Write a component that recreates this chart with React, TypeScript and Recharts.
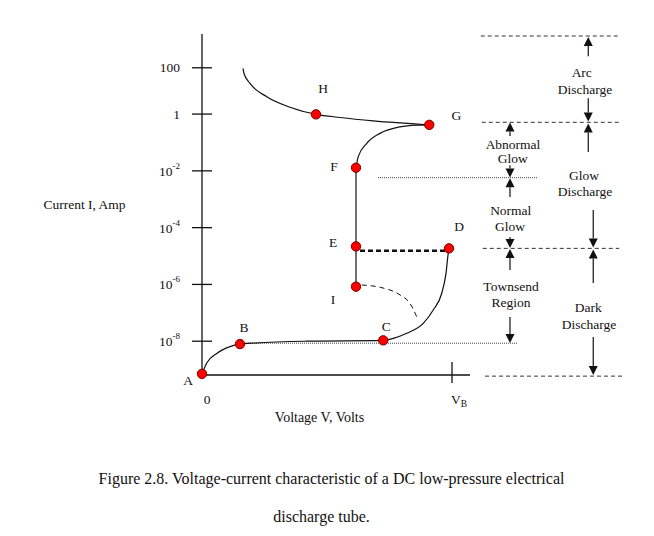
import React from 'react';
import { ComposedChart, Line, Scatter, XAxis, YAxis, ReferenceLine } from 'recharts';

// current is plotted as decade level (10^level A); the figure squeezes the 100 A tick toward 1 A
const tickLevels = [-8, -6, -4, -2, 0, 1.63];
const tickPowers = [-8, -6, -4, -2, 0, 2];
const voltTicks = [0, 10];
const voltTickLabels = ['0', 'V'];

// A -> B -> C -> D : background ionisation, saturation, Townsend
const townsendCurve = [
  { v: 0, i: -9.15 },
  { v: 0.19, i: -8.77 },
  { v: 0.59, i: -8.43 },
  { v: 1.12, i: -8.19 },
  { v: 1.52, i: -8.1 },
  { v: 4.19, i: -8.0 },
  { v: 7.25, i: -7.97 },
  { v: 7.65, i: -7.9 },
  { v: 8.19, i: -7.72 },
  { v: 8.85, i: -7.37 },
  { v: 9.25, i: -6.9 },
  { v: 9.59, i: -6.31 },
  { v: 9.76, i: -5.61 },
  { v: 9.85, i: -4.9 },
  { v: 9.88, i: -4.73 },
];

// I -> E -> F : normal glow
const normalGlow = [
  { v: 6.16, i: -6.08 },
  { v: 6.16, i: -1.89 },
];

// F -> G : abnormal glow
const abnormalGlow = [
  { v: 6.16, i: -1.89 },
  { v: 6.25, i: -1.5 },
  { v: 6.59, i: -1.03 },
  { v: 7.12, i: -0.68 },
  { v: 7.92, i: -0.45 },
  { v: 8.59, i: -0.39 },
  { v: 9.09, i: -0.38 },
];

// G -> H -> : arc
const arcCurve = [
  { v: 1.64, i: 1.61 },
  { v: 1.68, i: 1.43 },
  { v: 1.92, i: 1.08 },
  { v: 2.59, i: 0.61 },
  { v: 3.52, i: 0.24 },
  { v: 4.56, i: -0.01 },
  { v: 5.52, i: -0.12 },
  { v: 6.85, i: -0.24 },
  { v: 9.09, i: -0.38 },
];

// D -> E jump (thick dashed)
const breakdownJump = [
  { v: 6.32, i: -4.81 },
  { v: 9.79, i: -4.81 },
];

// from I, dashed
const subnormalCurve = [
  { v: 6.39, i: -6.02 },
  { v: 7.12, i: -6.1 },
  { v: 7.92, i: -6.37 },
  { v: 8.32, i: -6.67 },
  { v: 8.59, i: -7.14 },
];

const points = [
  { name: 'A', v: 0, i: -9.15 },
  { name: 'B', v: 1.52, i: -8.1 },
  { name: 'C', v: 7.25, i: -7.97 },
  { name: 'D', v: 9.88, i: -4.73 },
  { name: 'E', v: 6.16, i: -4.66 },
  { name: 'F', v: 6.16, i: -1.89 },
  { name: 'G', v: 9.09, i: -0.38 },
  { name: 'H', v: 4.56, i: -0.01 },
  { name: 'I', v: 6.16, i: -6.08 },
];

// thin dotted guides
const dottedGuides = [
  { from: 1.52, to: 12.6, i: -8.07 },
  { from: 7.04, to: 13.4, i: -2.24 },
];

// dashed region boundaries on the right
const regionBounds = [
  { from: 11.15, to: 16.64, i: 2.75 },
  { from: 11.19, to: 16.79, i: -0.29 },
  { from: 11.23, to: 16.69, i: -4.73 },
  { from: 11.32, to: 16.81, i: -9.23 },
];

const regionArrows = [
  { v: 12.32, from: -0.77, to: -0.3 },
  { v: 12.32, from: -1.8, to: -2.23 },
  { v: 12.32, from: -2.92, to: -2.26 },
  { v: 12.32, from: -4.33, to: -4.72 },
  { v: 12.32, from: -5.49, to: -4.75 },
  { v: 12.32, from: -7.15, to: -8.06 },
  { v: 15.45, from: 2.04, to: 2.71 },
  { v: 15.45, from: 0.56, to: -0.26 },
  { v: 15.45, from: -1.34, to: -0.33 },
  { v: 15.65, from: -3.38, to: -4.7 },
  { v: 15.65, from: -5.95, to: -4.77 },
  { v: 15.65, from: -7.85, to: -9.19 },
];

const regionTexts = [
  { text: 'Arc', v: 15.19, i: 1.45 },
  { text: 'Discharge', v: 15.32, i: 0.88 },
  { text: 'Abnormal', v: 12.44, i: -1.06 },
  { text: 'Glow', v: 12.43, i: -1.58 },
  { text: 'Glow', v: 15.28, i: -2.15 },
  { text: 'Discharge', v: 15.32, i: -2.71 },
  { text: 'Normal', v: 12.35, i: -3.4 },
  { text: 'Glow', v: 12.32, i: -3.97 },
  { text: 'Townsend', v: 12.36, i: -6.08 },
  { text: 'Region', v: 12.36, i: -6.64 },
  { text: 'Dark', v: 15.45, i: -6.81 },
  { text: 'Discharge', v: 15.48, i: -7.4 },
];

const FONT = "'Liberation Serif', 'Times New Roman', serif";
const INK = '#111';

// letter offsets from each marker, px
const letterOffset: Record<string, [number, number]> = {
  A: [-14, 7],
  B: [4, -17],
  C: [3, -14],
  D: [10, -22],
  E: [-23, -4],
  F: [-22, -1],
  G: [27, -9],
  H: [7, -26],
  I: [-23, 13],
};

function CurrentTick(props: any) {
  const { x, y, payload } = props;
  const p = tickPowers[tickLevels.indexOf(payload.value)];
  const common = { x, y, textAnchor: 'end' as const, dominantBaseline: 'central' as const, fontFamily: FONT, fontSize: 13.5, fill: INK };
  if (p === 0) return <text {...common}>1</text>;
  if (p === 2) return <text {...common}>100</text>;
  return (
    <text {...common}>
      <tspan>10</tspan>
      <tspan dy={-5} fontSize={9}>{p}</tspan>
    </text>
  );
}

function VoltTick(props: any) {
  const { x, y, payload } = props;
  const label = voltTickLabels[voltTicks.indexOf(payload.value)];
  if (label === '0') {
    return (
      <text x={x + 5} y={y} textAnchor="middle" dominantBaseline="central" fontFamily={FONT} fontSize={13.5} fill={INK}>0</text>
    );
  }
  return (
    <text x={x - 1} y={y} textAnchor="start" dominantBaseline="central" fontFamily={FONT} fontSize={13.5} fill={INK}>
      <tspan>{label}</tspan>
      <tspan dy={5} fontSize={9.5}>B</tspan>
    </text>
  );
}

function Arrow(props: any) {
  const { x1, y1, x2, y2 } = props;
  const dir = y2 > y1 ? 1 : -1;
  const head = Math.min(9, Math.abs(y2 - y1));
  const half = 4.5;
  const baseY = y2 - dir * head;
  return (
    <g>
      <line x1={x1} y1={y1} x2={x2} y2={baseY} stroke={INK} strokeWidth={1.2} />
      <polygon points={`${x2},${y2} ${x2 - half},${baseY} ${x2 + half},${baseY}`} fill={INK} />
    </g>
  );
}

function PointMark(props: any) {
  const { cx, cy, payload } = props;
  const [dx, dy] = letterOffset[payload.name] || [0, 0];
  return (
    <g>
      <circle cx={cx} cy={cy} r={4.7} fill="#ff0000" stroke="#7a0000" strokeWidth={1} />
      <text x={cx + dx} y={cy + dy} textAnchor="middle" dominantBaseline="central" fontFamily={FONT} fontSize={13.5} fill={INK}>
        {payload.name}
      </text>
    </g>
  );
}

function RegionText(props: any) {
  const { cx, cy, payload } = props;
  return (
    <text x={cx} y={cy} textAnchor="middle" dominantBaseline="central" fontFamily={FONT} fontSize={13.5} fill={INK}>
      {payload.text}
    </text>
  );
}

const abs = (left: number, top: number, size: number): React.CSSProperties => ({
  position: 'absolute',
  left,
  top,
  transform: 'translate(-50%, -50%)',
  whiteSpace: 'nowrap',
  fontFamily: FONT,
  fontSize: size,
  color: INK,
  lineHeight: 1,
});

export default function App() {
  const curve = { stroke: INK, strokeWidth: 1.2, dot: false, activeDot: false, isAnimationActive: false } as const;
  return (
    <div style={{ position: 'relative', width: 638, height: 520, background: '#fff' }}>
      <ComposedChart width={638} height={440} margin={{ top: 26, right: 19, bottom: 43, left: 134 }}>
        <XAxis
          type="number"
          dataKey="v"
          domain={[0, 17]}
          ticks={voltTicks}
          interval={0}
          axisLine={false}
          tickLine={false}
          tickSize={10}
          tickMargin={14}
          height={30}
          tick={<VoltTick />}
        />
        <YAxis
          type="number"
          dataKey="i"
          domain={[-9.19, 2.82]}
          ticks={tickLevels}
          interval={0}
          axisLine={{ stroke: INK, strokeWidth: 1.3 }}
          tickLine={false}
          tickSize={10}
          tickMargin={12}
          width={60}
          tick={<CurrentTick />}
        />

        {tickLevels.map((t) => (
          <ReferenceLine key={`yt${t}`} segment={[{ x: -0.4, y: t }, { x: 0.4, y: t }]} stroke={INK} strokeWidth={1.3} ifOverflow="visible" />
        ))}
        <ReferenceLine segment={[{ x: 0, y: -9.19 }, { x: 10.72, y: -9.19 }]} stroke={INK} strokeWidth={1.3} ifOverflow="visible" />
        <ReferenceLine segment={[{ x: 10, y: -8.73 }, { x: 10, y: -9.47 }]} stroke={INK} strokeWidth={1.3} ifOverflow="visible" />

        {dottedGuides.map((g, k) => (
          <ReferenceLine key={`dg${k}`} segment={[{ x: g.from, y: g.i }, { x: g.to, y: g.i }]} stroke="#444" strokeWidth={1} strokeDasharray="1 1" ifOverflow="visible" />
        ))}
        {regionBounds.map((b, k) => (
          <ReferenceLine key={`rb${k}`} segment={[{ x: b.from, y: b.i }, { x: b.to, y: b.i }]} stroke="#333" strokeWidth={1} strokeDasharray="4 3" ifOverflow="visible" />
        ))}
        {regionArrows.map((a, k) => (
          <ReferenceLine key={`ra${k}`} segment={[{ x: a.v, y: a.from }, { x: a.v, y: a.to }]} shape={Arrow} ifOverflow="visible" />
        ))}

        <Line data={townsendCurve} dataKey="i" type="monotone" {...curve} />
        <Line data={normalGlow} dataKey="i" type="linear" {...curve} />
        <Line data={abnormalGlow} dataKey="i" type="monotone" {...curve} />
        <Line data={arcCurve} dataKey="i" type="monotone" {...curve} />
        <Line data={subnormalCurve} dataKey="i" type="monotone" {...curve} strokeWidth={1} strokeDasharray="5 4" />
        <Line data={breakdownJump} dataKey="i" type="linear" {...curve} strokeWidth={2.5} strokeDasharray="5 3" />

        <Scatter data={regionTexts} dataKey="i" shape={RegionText} isAnimationActive={false} />
        <Scatter data={points} dataKey="i" shape={PointMark} isAnimationActive={false} />
      </ComposedChart>

      <div style={abs(76.5, 197, 13.5)}>Current I, Amp</div>
      <div style={abs(311.5, 410, 14)}>Voltage V, Volts</div>
      <div style={abs(323.5, 471, 16)}>Figure 2.8. Voltage-current characteristic of a DC low-pressure electrical</div>
      <div style={abs(313.5, 508.7, 16)}>discharge tube.</div>
    </div>
  );
}
